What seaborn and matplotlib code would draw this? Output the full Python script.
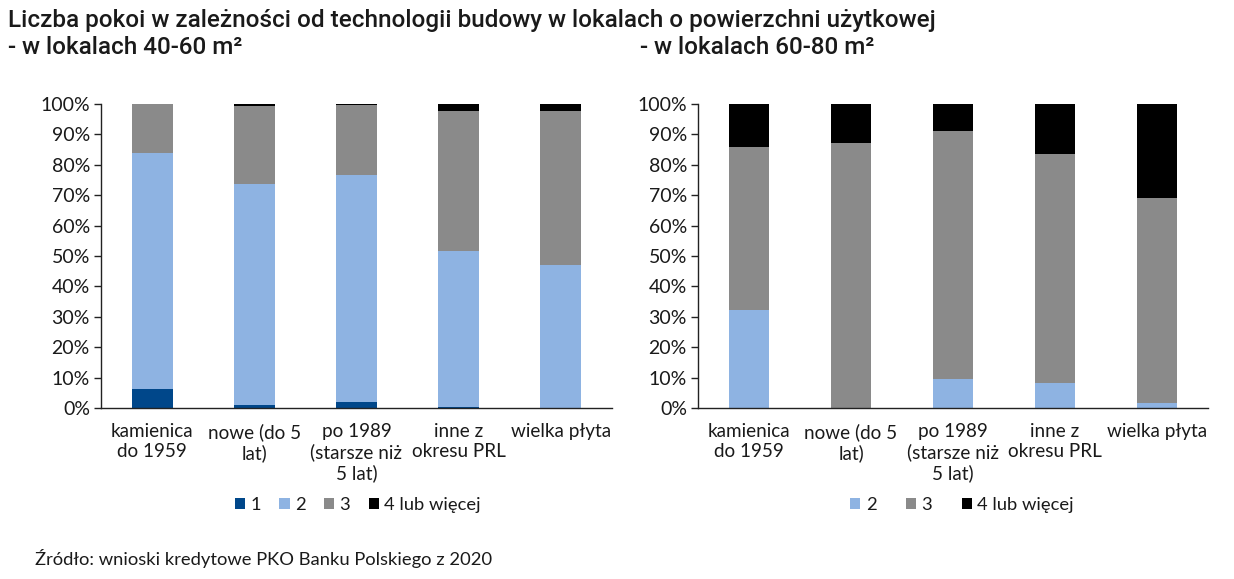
import numpy as np
import pandas as pd
import matplotlib
matplotlib.use("Agg")
import matplotlib.pyplot as plt
import seaborn as sns
from matplotlib.patches import Patch
from matplotlib.ticker import PercentFormatter, FixedLocator

# ---------------- data ----------------
categories = ["kamienica\ndo 1959", "nowe (do 5\nlat)", "po 1989\n(starsze niż\n5 lat)",
              "inne z\nokresu PRL", "wielka płyta"]

# left chart: flats 40-60 m2 (shares, %)
left_1 = [6.2, 0.9, 2.0, 0.3, 0.1]
left_2 = [77.6, 72.8, 74.5, 51.4, 47.0]
left_3 = [16.2, 25.6, 23.1, 45.9, 50.5]
left_4 = [0.0, 0.7, 0.4, 2.4, 2.4]

# right chart: flats 60-80 m2 (shares, %)
right_2 = [32.1, 0.0, 9.6, 8.3, 1.8]
right_3 = [53.9, 87.3, 81.6, 75.2, 67.3]
right_4 = [14.0, 12.7, 8.8, 16.5, 30.9]

left_labels = ["1", "2", "3", "4 lub więcej"]
right_labels = ["2", "3", "4 lub więcej"]

title = "Liczba pokoi w zależności od technologii budowy w lokalach o powierzchni użytkowej"
sub_left = "- w lokalach 40-60 m²"
sub_right = "- w lokalach 60-80 m²"
source = "Źródło: wnioski kredytowe PKO Banku Polskiego z 2020"

# ---------------- style ----------------
COL = {"1": "#00478A", "2": "#8EB3E2", "3": "#8A8A8A", "4 lub więcej": "#000000"}

sns.set_theme(style="white")
plt.rcParams["font.family"] = ["Lato", "DejaVu Sans"]
TXT = "#1a1a1a"
FS = 14

fig = plt.figure(figsize=(12.34, 5.79), dpi=100)
W, H = 1234, 579
axL = fig.add_axes([101 / W, 1 - 408 / H, 511 / W, 304 / H])
axR = fig.add_axes([698 / W, 1 - 408 / H, 510 / W, 304 / H])


def draw(ax, series, labels):
    n = len(categories)
    cum = np.zeros(n)
    cums = []
    for s in series:
        cum = cum + np.array(s) / 100.0
        cums.append(cum.copy())
    # draw from the full stack down so lower layers overlay
    for lab, c in reversed(list(zip(labels, cums))):
        df = pd.DataFrame({"cat": categories, "val": c})
        sns.barplot(data=df, x="cat", y="val", color=COL[lab], width=0.4,
                    saturation=1, ax=ax, linewidth=0)
    ax.set_ylim(0, 1)
    ax.set_xlim(-0.5, n - 0.5)
    ax.set_xlabel("")
    ax.set_ylabel("")
    ax.yaxis.set_major_locator(FixedLocator(np.arange(0, 1.01, 0.1)))
    ax.yaxis.set_major_formatter(PercentFormatter(1.0, decimals=0))
    ax.xaxis.set_minor_locator(FixedLocator(np.arange(-0.5, n, 1.0)))
    ax.tick_params(axis="x", which="major", length=0, pad=11, labelsize=13.6, labelcolor=TXT)
    ax.tick_params(axis="x", which="minor", length=6, width=1, color="#222222", direction="out")
    ax.tick_params(axis="y", which="major", length=5, width=1, color="#222222",
                   direction="out", labelsize=FS, labelcolor=TXT, pad=3)
    ax.tick_params(left=True, bottom=True)
    for sp in ["top", "right"]:
        ax.spines[sp].set_visible(False)
    for sp in ["left", "bottom"]:
        ax.spines[sp].set_color("#222222")
        ax.spines[sp].set_linewidth(1.0)
    for t in ax.get_xticklabels():
        t.set_linespacing(1.2)
        t.set_verticalalignment("top")
    ax.grid(False)


draw(axL, [left_1, left_2, left_3, left_4], left_labels)
draw(axR, [right_2, right_3, right_4], right_labels)

# legends
def legend(labels, cx, spacing):
    handles = [Patch(facecolor=COL[l], edgecolor="none", label=l) for l in labels]
    fig.legend(handles=handles, loc="center", bbox_to_anchor=(cx / W, 1 - 505 / H),
               ncol=len(labels), frameon=False, fontsize=13.2, handlelength=0.55,
               handleheight=0.55, handletextpad=0.3, columnspacing=spacing,
               labelcolor=TXT)

legend(left_labels, 358, 1.0)
legend(right_labels, 962, 1.6)

# titles
TF = dict(fontsize=17.5, fontweight="medium", family=["Roboto", "DejaVu Sans"],
          color=TXT, va="center", ha="left")
fig.text(8 / W, 1 - 21 / H, title, **TF)
fig.text(8 / W, 1 - 48 / H, sub_left, **TF)
fig.text(640 / W, 1 - 48 / H, sub_right, **TF)
fig.text(35 / W, 1 - 558 / H, source, fontsize=13.2, color=TXT, va="center", ha="left")

fig.savefig("out.png", dpi=100, facecolor="white")
